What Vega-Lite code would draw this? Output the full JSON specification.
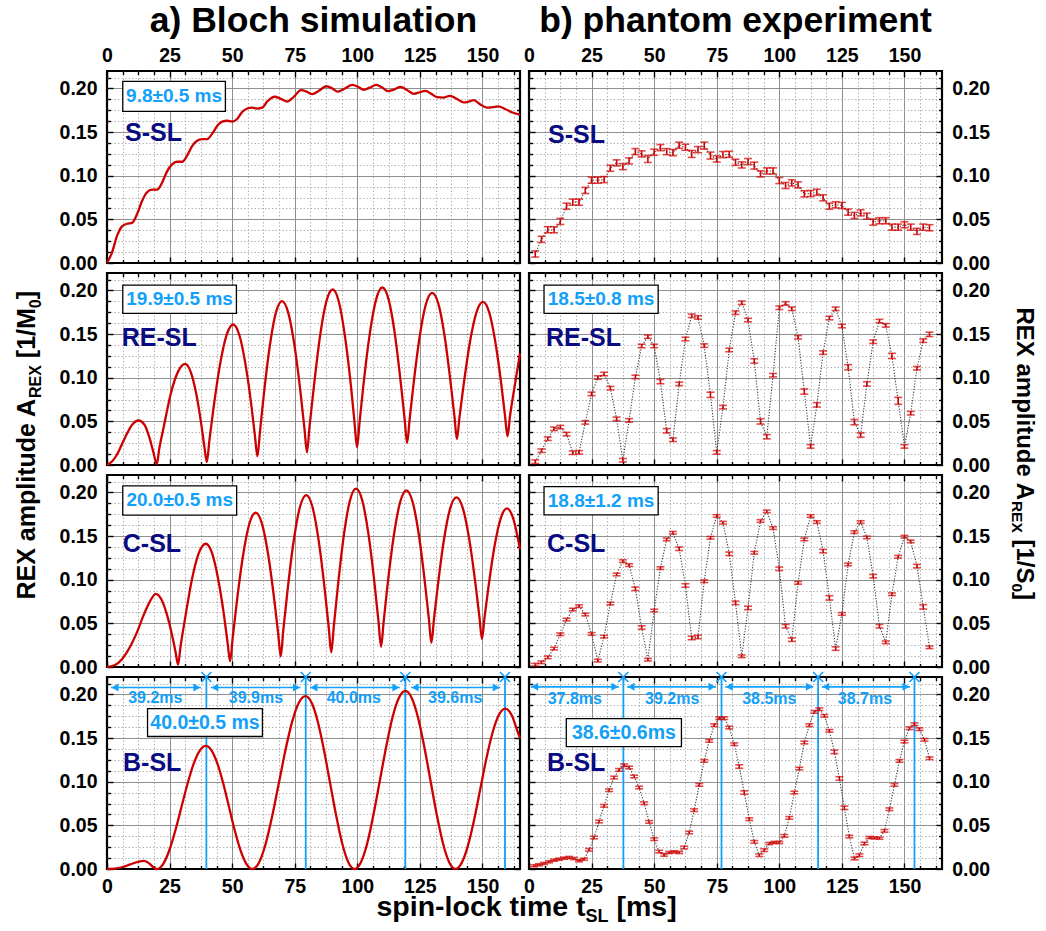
{
"$schema":"https://vega.github.io/schema/vega-lite/v6.json",
"padding":{"left":13,"top":2,"right":4,"bottom":4},
"background":"#ffffff",
"config":{
 "font":"Liberation Sans",
 "view":{"stroke":"#000000","strokeWidth":2.2},
 "axis":{"domain":false,"labelFont":"Liberation Sans","labelFontSize":19.5,"labelFontWeight":"bold","labelColor":"#000000","labelFlush":false,"labelOverlap":false,"tickColor":"#000000","tickWidth":1.4,"gridWidth":1,"titleFont":"Liberation Sans","titleFontWeight":"bold","titleColor":"#000000","titleAlign":"left","titleBaseline":"alphabetic","titlePadding":0},
 "title":{"font":"Liberation Sans","fontWeight":"bold","color":"#000000"}
},
"datasets":{
"frame":[{"t":0,"v":0},{"t":165,"v":0.22}],
"ssl_sim":[{"t":0,"v":0},{"t":2,"v":0.012},{"t":4,"v":0.031},{"t":6,"v":0.042},{"t":8,"v":0.045},{"t":10,"v":0.046},{"t":12,"v":0.056},{"t":14,"v":0.071},{"t":16,"v":0.081},{"t":18,"v":0.084},{"t":20,"v":0.084},{"t":22,"v":0.092},{"t":24,"v":0.105},{"t":26,"v":0.113},{"t":28,"v":0.116},{"t":30,"v":0.116},{"t":32,"v":0.123},{"t":34,"v":0.134},{"t":36,"v":0.14},{"t":38,"v":0.142},{"t":40,"v":0.142},{"t":42,"v":0.148},{"t":44,"v":0.157},{"t":46,"v":0.162},{"t":48,"v":0.163},{"t":50,"v":0.162},{"t":52,"v":0.165},{"t":54,"v":0.173},{"t":56,"v":0.177},{"t":58,"v":0.178},{"t":60,"v":0.177},{"t":62,"v":0.178},{"t":64,"v":0.185},{"t":67,"v":0.1905},{"t":69.5,"v":0.188},{"t":72,"v":0.185},{"t":74.5,"v":0.19},{"t":77.5,"v":0.198},{"t":80,"v":0.196},{"t":82,"v":0.1935},{"t":84.5,"v":0.197},{"t":87.7,"v":0.2025},{"t":90,"v":0.2},{"t":92.2,"v":0.1963},{"t":95,"v":0.2},{"t":98,"v":0.2042},{"t":100.5,"v":0.2015},{"t":102.6,"v":0.1985},{"t":105,"v":0.201},{"t":107.6,"v":0.2042},{"t":110,"v":0.201},{"t":112.2,"v":0.197},{"t":114.8,"v":0.199},{"t":117.2,"v":0.2018},{"t":120,"v":0.198},{"t":122.5,"v":0.1939},{"t":124.8,"v":0.1955},{"t":127.2,"v":0.1973},{"t":129.5,"v":0.194},{"t":131.8,"v":0.19},{"t":134.3,"v":0.1895},{"t":137,"v":0.1915},{"t":139.8,"v":0.188},{"t":142.5,"v":0.184},{"t":144.5,"v":0.185},{"t":146.5,"v":0.1866},{"t":149,"v":0.182},{"t":151.8,"v":0.178},{"t":154,"v":0.1785},{"t":156.4,"v":0.1794},{"t":159,"v":0.1765},{"t":162,"v":0.1725},{"t":165,"v":0.17}],
"resl_sim":[{"t":0,"v":0},{"t":2,"v":0.004},{"t":4,"v":0.012},{"t":6,"v":0.024},{"t":8,"v":0.036},{"t":10,"v":0.046},{"t":12.6,"v":0.051},{"t":15,"v":0.046},{"t":17,"v":0.031},{"t":18.5,"v":0.015},{"t":19.9,"v":0.001},{"t":20.9,"v":0.019},{"t":22.7,"v":0.044},{"t":25.5,"v":0.082},{"t":28.4,"v":0.107},{"t":31.2,"v":0.1158},{"t":33.4,"v":0.107},{"t":35.55,"v":0.083},{"t":37.7,"v":0.046},{"t":38.9,"v":0.021},{"t":39.9,"v":0.0034},{"t":40.9,"v":0.028},{"t":42.5,"v":0.064},{"t":45.15,"v":0.115},{"t":47.8,"v":0.149},{"t":50.4,"v":0.161},{"t":52.8,"v":0.1495},{"t":55.25,"v":0.1167},{"t":57.7,"v":0.0678},{"t":59.1,"v":0.0335},{"t":60.1,"v":0.0099},{"t":61.1,"v":0.0377},{"t":62.55,"v":0.078},{"t":65,"v":0.1357},{"t":67.45,"v":0.1743},{"t":69.9,"v":0.1878},{"t":72.4,"v":0.1746},{"t":74.9,"v":0.137},{"t":77.4,"v":0.0809},{"t":78.9,"v":0.0415},{"t":79.9,"v":0.0145},{"t":80.9,"v":0.0437},{"t":82.5,"v":0.086},{"t":85.05,"v":0.1464},{"t":87.6,"v":0.187},{"t":90.2,"v":0.2011},{"t":92.6,"v":0.1874},{"t":95.05,"v":0.148},{"t":97.5,"v":0.0895},{"t":98.9,"v":0.0484},{"t":99.9,"v":0.0202},{"t":100.9,"v":0.0487},{"t":102.4,"v":0.0904},{"t":104.95,"v":0.1497},{"t":107.5,"v":0.1895},{"t":110,"v":0.2034},{"t":112.5,"v":0.1898},{"t":114.95,"v":0.1512},{"t":117.4,"v":0.0934},{"t":118.9,"v":0.0529},{"t":119.9,"v":0.0251},{"t":120.9,"v":0.052},{"t":122.4,"v":0.091},{"t":124.9,"v":0.1468},{"t":127.4,"v":0.1842},{"t":129.9,"v":0.1973},{"t":132.4,"v":0.1846},{"t":134.85,"v":0.1482},{"t":137.3,"v":0.0939},{"t":138.8,"v":0.056},{"t":139.8,"v":0.0297},{"t":140.8,"v":0.0542},{"t":142.4,"v":0.09},{"t":145,"v":0.1409},{"t":147.6,"v":0.175},{"t":150.2,"v":0.187},{"t":152.65,"v":0.1753},{"t":155.1,"v":0.1418},{"t":157.55,"v":0.0919},{"t":159,"v":0.0568},{"t":160,"v":0.0328},{"t":161,"v":0.056},{"t":162.4,"v":0.082},{"t":165,"v":0.128}],
"csl_sim":[{"t":0,"v":0},{"t":3,"v":0.002},{"t":6,"v":0.009},{"t":9,"v":0.022},{"t":12,"v":0.04},{"t":15,"v":0.062},{"t":17.5,"v":0.077},{"t":19.5,"v":0.0838},{"t":21.7,"v":0.0776},{"t":23.95,"v":0.06},{"t":26.2,"v":0.0338},{"t":27.4,"v":0.017},{"t":28.4,"v":0.0027},{"t":29.4,"v":0.024},{"t":31.2,"v":0.0557},{"t":33.95,"v":0.1006},{"t":36.7,"v":0.1307},{"t":39.5,"v":0.1412},{"t":41.9,"v":0.131},{"t":44.35,"v":0.1017},{"t":46.8,"v":0.0581},{"t":48.2,"v":0.027},{"t":49.2,"v":0.0065},{"t":50.2,"v":0.033},{"t":51.75,"v":0.0717},{"t":54.3,"v":0.1269},{"t":56.85,"v":0.1639},{"t":59.4,"v":0.1768},{"t":61.9,"v":0.1643},{"t":64.4,"v":0.1286},{"t":66.9,"v":0.0753},{"t":68.4,"v":0.038},{"t":69.4,"v":0.0123},{"t":70.4,"v":0.041},{"t":71.95,"v":0.083},{"t":74.5,"v":0.1429},{"t":77.05,"v":0.183},{"t":79.6,"v":0.197},{"t":82.1,"v":0.1833},{"t":84.6,"v":0.1442},{"t":87.1,"v":0.0858},{"t":88.6,"v":0.045},{"t":89.6,"v":0.0168},{"t":90.6,"v":0.046},{"t":92.1,"v":0.0887},{"t":94.55,"v":0.1494},{"t":97,"v":0.1901},{"t":99.5,"v":0.2044},{"t":102,"v":0.1906},{"t":104.5,"v":0.1513},{"t":107,"v":0.0925},{"t":108.5,"v":0.051},{"t":109.5,"v":0.023},{"t":110.5,"v":0.051},{"t":112,"v":0.0917},{"t":114.55,"v":0.1498},{"t":117.1,"v":0.1888},{"t":119.6,"v":0.2024},{"t":122.1,"v":0.1891},{"t":124.6,"v":0.1512},{"t":127.1,"v":0.0945},{"t":128.6,"v":0.055},{"t":129.6,"v":0.0276},{"t":130.6,"v":0.054},{"t":132.1,"v":0.0915},{"t":134.6,"v":0.1455},{"t":137.1,"v":0.1817},{"t":139.6,"v":0.1944},{"t":142.15,"v":0.1821},{"t":144.7,"v":0.1468},{"t":147.25,"v":0.0943},{"t":148.8,"v":0.057},{"t":149.8,"v":0.0321},{"t":150.8,"v":0.056},{"t":152.3,"v":0.0894},{"t":154.8,"v":0.138},{"t":157.3,"v":0.1704},{"t":159.8,"v":0.1818},{"t":162.3,"v":0.17},{"t":165,"v":0.135}],
"bsl_sim":[{"t":0,"v":0},{"t":3,"v":0.0005},{"t":6,"v":0.002},{"t":9,"v":0.005},{"t":12,"v":0.008},{"t":14.9,"v":0.0094},{"t":17,"v":0.006},{"t":18.5,"v":0.002},{"t":19.9,"v":0},{"t":22.35,"v":0.0054},{"t":24.8,"v":0.0206},{"t":27.25,"v":0.0436},{"t":29.7,"v":0.0705},{"t":32.15,"v":0.0974},{"t":34.6,"v":0.1204},{"t":37.05,"v":0.1356},{"t":39.5,"v":0.141},{"t":41.8,"v":0.1356},{"t":44.15,"v":0.1204},{"t":46.5,"v":0.0974},{"t":48.8,"v":0.0705},{"t":51.1,"v":0.0436},{"t":53.45,"v":0.0206},{"t":55.8,"v":0.0054},{"t":58.1,"v":0},{"t":60.75,"v":0.0075},{"t":63.4,"v":0.0289},{"t":66.05,"v":0.0612},{"t":68.7,"v":0.099},{"t":71.35,"v":0.1368},{"t":74,"v":0.1691},{"t":76.65,"v":0.1905},{"t":79.3,"v":0.198},{"t":81.75,"v":0.1905},{"t":84.2,"v":0.1691},{"t":86.65,"v":0.1368},{"t":89.1,"v":0.099},{"t":91.55,"v":0.0612},{"t":94,"v":0.0289},{"t":96.45,"v":0.0075},{"t":98.9,"v":0},{"t":101.45,"v":0.0078},{"t":104,"v":0.0298},{"t":106.5,"v":0.063},{"t":109.05,"v":0.102},{"t":111.6,"v":0.141},{"t":114.1,"v":0.1742},{"t":116.65,"v":0.1962},{"t":119.2,"v":0.204},{"t":121.7,"v":0.1962},{"t":124.2,"v":0.1742},{"t":126.7,"v":0.141},{"t":129.2,"v":0.102},{"t":131.7,"v":0.063},{"t":134.2,"v":0.0298},{"t":136.7,"v":0.0078},{"t":139.2,"v":0},{"t":141.7,"v":0.007},{"t":144.2,"v":0.0268},{"t":146.7,"v":0.0568},{"t":149.15,"v":0.0919},{"t":151.6,"v":0.127},{"t":154.1,"v":0.157},{"t":156.6,"v":0.1768},{"t":159.1,"v":0.1838},{"t":161.6,"v":0.1768},{"t":164.1,"v":0.157},{"t":165,"v":0.15}],
"ssl_exp":[{"t":2.5,"v":0.0103,"e":0.0035},{"t":5,"v":0.0271,"e":0.0035},{"t":7.5,"v":0.0381,"e":0.0035},{"t":10,"v":0.0381,"e":0.0035},{"t":12.5,"v":0.0476,"e":0.0035},{"t":15,"v":0.0651,"e":0.0035},{"t":17.5,"v":0.0697,"e":0.0035},{"t":20,"v":0.0697,"e":0.0035},{"t":22.5,"v":0.0831,"e":0.0035},{"t":25,"v":0.0949,"e":0.0035},{"t":27.5,"v":0.0949,"e":0.0035},{"t":30,"v":0.0956,"e":0.0035},{"t":32.5,"v":0.1086,"e":0.0035},{"t":35,"v":0.1147,"e":0.0035},{"t":37.5,"v":0.1105,"e":0.0035},{"t":40,"v":0.117,"e":0.0035},{"t":42.5,"v":0.1276,"e":0.0035},{"t":45,"v":0.125,"e":0.0035},{"t":47.5,"v":0.1192,"e":0.004},{"t":50,"v":0.1269,"e":0.0035},{"t":52.5,"v":0.1322,"e":0.0035},{"t":55,"v":0.1276,"e":0.0035},{"t":57.5,"v":0.1265,"e":0.0035},{"t":60,"v":0.1349,"e":0.0035},{"t":62.5,"v":0.1326,"e":0.0035},{"t":65,"v":0.125,"e":0.004},{"t":67.5,"v":0.1299,"e":0.0035},{"t":70,"v":0.1345,"e":0.004},{"t":72.5,"v":0.1231,"e":0.004},{"t":75,"v":0.1192,"e":0.0035},{"t":77.5,"v":0.1242,"e":0.0035},{"t":80,"v":0.1246,"e":0.0035},{"t":82.5,"v":0.1154,"e":0.0035},{"t":85,"v":0.1124,"e":0.0035},{"t":87.5,"v":0.1162,"e":0.0035},{"t":90,"v":0.1116,"e":0.004},{"t":92.5,"v":0.1021,"e":0.0035},{"t":95,"v":0.1055,"e":0.0035},{"t":97.5,"v":0.1055,"e":0.0035},{"t":100,"v":0.0945,"e":0.0035},{"t":102.5,"v":0.0888,"e":0.0035},{"t":105,"v":0.0918,"e":0.0035},{"t":107.5,"v":0.0895,"e":0.0035},{"t":110,"v":0.0792,"e":0.0035},{"t":112.5,"v":0.0796,"e":0.0035},{"t":115,"v":0.0811,"e":0.0035},{"t":117.5,"v":0.0747,"e":0.0035},{"t":120,"v":0.0651,"e":0.0035},{"t":122.5,"v":0.0667,"e":0.0035},{"t":125,"v":0.0659,"e":0.0035},{"t":127.5,"v":0.0583,"e":0.0035},{"t":130,"v":0.0545,"e":0.0035},{"t":132.5,"v":0.0575,"e":0.0035},{"t":135,"v":0.0537,"e":0.0035},{"t":137.5,"v":0.0469,"e":0.0035},{"t":140,"v":0.0484,"e":0.0035},{"t":142.5,"v":0.0484,"e":0.0035},{"t":145,"v":0.0411,"e":0.0035},{"t":147.5,"v":0.0411,"e":0.0035},{"t":150,"v":0.0438,"e":0.0035},{"t":152.5,"v":0.0411,"e":0.0035},{"t":155,"v":0.0362,"e":0.0035},{"t":157.5,"v":0.0411,"e":0.0035},{"t":160,"v":0.0404,"e":0.0035}],
"resl_exp":[{"t":2.5,"v":0.0038,"e":0.002},{"t":5,"v":0.0164,"e":0.002},{"t":7.5,"v":0.0301,"e":0.002},{"t":10,"v":0.0415,"e":0.002},{"t":12.5,"v":0.0434,"e":0.002},{"t":15,"v":0.0354,"e":0.002},{"t":17.5,"v":0.0141,"e":0.002},{"t":20,"v":0.0145,"e":0.002},{"t":22.5,"v":0.0488,"e":0.002},{"t":25,"v":0.0815,"e":0.002},{"t":27.5,"v":0.1002,"e":0.002},{"t":30,"v":0.1043,"e":0.002},{"t":32.5,"v":0.088,"e":0.002},{"t":35,"v":0.0529,"e":0.002},{"t":37.5,"v":0.0054,"e":0.002},{"t":40,"v":0.0511,"e":0.002},{"t":42.5,"v":0.1009,"e":0.002},{"t":45,"v":0.1364,"e":0.002},{"t":47.5,"v":0.147,"e":0.002},{"t":50,"v":0.1364,"e":0.002},{"t":52.5,"v":0.0956,"e":0.0025},{"t":55,"v":0.0392,"e":0.0025},{"t":57.5,"v":0.0289,"e":0.002},{"t":60,"v":0.0929,"e":0.002},{"t":62.5,"v":0.1444,"e":0.002},{"t":65,"v":0.171,"e":0.002},{"t":67.5,"v":0.1691,"e":0.002},{"t":70,"v":0.1368,"e":0.002},{"t":72.5,"v":0.0804,"e":0.003},{"t":75,"v":0.0145,"e":0.002},{"t":77.5,"v":0.0663,"e":0.002},{"t":80,"v":0.1318,"e":0.002},{"t":82.5,"v":0.1745,"e":0.002},{"t":85,"v":0.1859,"e":0.002},{"t":87.5,"v":0.1661,"e":0.002},{"t":90,"v":0.1192,"e":0.0025},{"t":92.5,"v":0.0499,"e":0.003},{"t":95,"v":0.0324,"e":0.0025},{"t":97.5,"v":0.1029,"e":0.002},{"t":100,"v":0.1802,"e":0.002},{"t":102.5,"v":0.1851,"e":0.002},{"t":105,"v":0.179,"e":0.002},{"t":107.5,"v":0.1463,"e":0.002},{"t":110,"v":0.0842,"e":0.003},{"t":112.5,"v":0.0213,"e":0.002},{"t":115,"v":0.0689,"e":0.0025},{"t":117.5,"v":0.1288,"e":0.002},{"t":120,"v":0.1684,"e":0.002},{"t":122.5,"v":0.179,"e":0.002},{"t":125,"v":0.1592,"e":0.002},{"t":127.5,"v":0.112,"e":0.003},{"t":130,"v":0.0491,"e":0.003},{"t":132.5,"v":0.0343,"e":0.0025},{"t":135,"v":0.0929,"e":0.0025},{"t":137.5,"v":0.1413,"e":0.002},{"t":140,"v":0.1649,"e":0.002},{"t":142.5,"v":0.16,"e":0.002},{"t":145,"v":0.125,"e":0.003},{"t":147.5,"v":0.0735,"e":0.004},{"t":150,"v":0.0213,"e":0.002},{"t":152.5,"v":0.0594,"e":0.002},{"t":155,"v":0.1109,"e":0.002},{"t":157.5,"v":0.1425,"e":0.002},{"t":160,"v":0.1497,"e":0.0025}],
"csl_exp":[{"t":2.5,"v":0.0027,"e":0.0015},{"t":5,"v":0.0054,"e":0.0015},{"t":7.5,"v":0.0111,"e":0.0015},{"t":10,"v":0.0211,"e":0.0015},{"t":12.5,"v":0.0375,"e":0.0015},{"t":15,"v":0.0543,"e":0.0015},{"t":17.5,"v":0.0658,"e":0.0015},{"t":20,"v":0.0697,"e":0.0015},{"t":22.5,"v":0.0601,"e":0.0015},{"t":25,"v":0.0379,"e":0.0015},{"t":27.5,"v":0.0073,"e":0.0015},{"t":30,"v":0.0348,"e":0.0015},{"t":32.5,"v":0.0727,"e":0.0015},{"t":35,"v":0.106,"e":0.0015},{"t":37.5,"v":0.1213,"e":0.0015},{"t":40,"v":0.1167,"e":0.0015},{"t":42.5,"v":0.0896,"e":0.002},{"t":45,"v":0.0452,"e":0.002},{"t":47.5,"v":0.0084,"e":0.0015},{"t":50,"v":0.0647,"e":0.0015},{"t":52.5,"v":0.1133,"e":0.0015},{"t":55,"v":0.1462,"e":0.0015},{"t":57.5,"v":0.1538,"e":0.0015},{"t":60,"v":0.1355,"e":0.002},{"t":62.5,"v":0.0934,"e":0.002},{"t":65,"v":0.0333,"e":0.002},{"t":67.5,"v":0.0344,"e":0.002},{"t":70,"v":0.0983,"e":0.0015},{"t":72.5,"v":0.1481,"e":0.0015},{"t":75,"v":0.173,"e":0.0015},{"t":77.5,"v":0.1653,"e":0.0015},{"t":80,"v":0.1297,"e":0.002},{"t":82.5,"v":0.0735,"e":0.002},{"t":85,"v":0.0123,"e":0.0015},{"t":87.5,"v":0.0677,"e":0.002},{"t":90,"v":0.1309,"e":0.0015},{"t":92.5,"v":0.1673,"e":0.0015},{"t":95,"v":0.1783,"e":0.0015},{"t":97.5,"v":0.1592,"e":0.0015},{"t":100,"v":0.1125,"e":0.002},{"t":102.5,"v":0.0467,"e":0.002},{"t":105,"v":0.0313,"e":0.002},{"t":107.5,"v":0.0964,"e":0.0015},{"t":110,"v":0.1462,"e":0.0015},{"t":112.5,"v":0.173,"e":0.0015},{"t":115,"v":0.1661,"e":0.0015},{"t":117.5,"v":0.1328,"e":0.002},{"t":120,"v":0.0792,"e":0.0025},{"t":122.5,"v":0.0211,"e":0.002},{"t":125,"v":0.0608,"e":0.0015},{"t":127.5,"v":0.1175,"e":0.0015},{"t":130,"v":0.1546,"e":0.0015},{"t":132.5,"v":0.1661,"e":0.0015},{"t":135,"v":0.1485,"e":0.0015},{"t":137.5,"v":0.1041,"e":0.002},{"t":140,"v":0.0467,"e":0.002},{"t":142.5,"v":0.0283,"e":0.0015},{"t":145,"v":0.0834,"e":0.0015},{"t":147.5,"v":0.1263,"e":0.0015},{"t":150,"v":0.1493,"e":0.0015},{"t":152.5,"v":0.1439,"e":0.0015},{"t":155,"v":0.1156,"e":0.002},{"t":157.5,"v":0.0689,"e":0.0025},{"t":160,"v":0.0226,"e":0.0015}],
"bsl_exp":[{"t":2,"v":0.0037,"e":0.0012},{"t":4,"v":0.0048,"e":0.0012},{"t":6,"v":0.0063,"e":0.0012},{"t":8,"v":0.0082,"e":0.0012},{"t":10,"v":0.0101,"e":0.0012},{"t":12,"v":0.0112,"e":0.0012},{"t":14,"v":0.0124,"e":0.0012},{"t":16,"v":0.0132,"e":0.0012},{"t":18,"v":0.012,"e":0.0012},{"t":20,"v":0.0094,"e":0.0012},{"t":22,"v":0.0112,"e":0.0012},{"t":24,"v":0.022,"e":0.0015},{"t":26,"v":0.0361,"e":0.0015},{"t":28,"v":0.0544,"e":0.0015},{"t":30,"v":0.0724,"e":0.0015},{"t":32,"v":0.0903,"e":0.0015},{"t":34,"v":0.1048,"e":0.0015},{"t":36,"v":0.1136,"e":0.0015},{"t":38,"v":0.1189,"e":0.0015},{"t":40,"v":0.1163,"e":0.0015},{"t":42,"v":0.106,"e":0.0015},{"t":44,"v":0.0934,"e":0.0015},{"t":46,"v":0.0754,"e":0.0015},{"t":48,"v":0.054,"e":0.0015},{"t":50,"v":0.0342,"e":0.0015},{"t":52,"v":0.02,"e":0.0015},{"t":54,"v":0.0162,"e":0.0015},{"t":56,"v":0.0189,"e":0.0012},{"t":58,"v":0.0197,"e":0.0012},{"t":60,"v":0.0189,"e":0.0012},{"t":62,"v":0.0246,"e":0.0015},{"t":64,"v":0.0418,"e":0.0015},{"t":66,"v":0.0674,"e":0.0015},{"t":68,"v":0.0964,"e":0.0015},{"t":70,"v":0.1239,"e":0.0015},{"t":72,"v":0.1468,"e":0.0015},{"t":74,"v":0.1648,"e":0.0015},{"t":76,"v":0.1728,"e":0.0015},{"t":78,"v":0.1728,"e":0.0015},{"t":80,"v":0.1621,"e":0.0015},{"t":82,"v":0.143,"e":0.0015},{"t":84,"v":0.1174,"e":0.002},{"t":86,"v":0.0876,"e":0.002},{"t":88,"v":0.0571,"e":0.0015},{"t":90,"v":0.0311,"e":0.0015},{"t":92,"v":0.0158,"e":0.0015},{"t":94,"v":0.0216,"e":0.0015},{"t":96,"v":0.0292,"e":0.0012},{"t":98,"v":0.0304,"e":0.0012},{"t":100,"v":0.0304,"e":0.0012},{"t":102,"v":0.038,"e":0.0015},{"t":104,"v":0.0586,"e":0.0015},{"t":106,"v":0.0876,"e":0.0015},{"t":108,"v":0.1151,"e":0.0015},{"t":110,"v":0.1449,"e":0.0015},{"t":112,"v":0.1648,"e":0.0015},{"t":114,"v":0.18,"e":0.0015},{"t":116,"v":0.1831,"e":0.0015},{"t":118,"v":0.1755,"e":0.0015},{"t":120,"v":0.1583,"e":0.0015},{"t":122,"v":0.1342,"e":0.002},{"t":124,"v":0.1037,"e":0.002},{"t":126,"v":0.0701,"e":0.002},{"t":128,"v":0.0372,"e":0.0015},{"t":130,"v":0.012,"e":0.0015},{"t":132,"v":0.0158,"e":0.0015},{"t":134,"v":0.0292,"e":0.0015},{"t":136,"v":0.0361,"e":0.0012},{"t":138,"v":0.0357,"e":0.0012},{"t":140,"v":0.0353,"e":0.0012},{"t":142,"v":0.0437,"e":0.0015},{"t":144,"v":0.0685,"e":0.0015},{"t":146,"v":0.0964,"e":0.0015},{"t":148,"v":0.1239,"e":0.0015},{"t":150,"v":0.1461,"e":0.0015},{"t":152,"v":0.1613,"e":0.0015},{"t":154,"v":0.1659,"e":0.0015},{"t":156,"v":0.1602,"e":0.0015},{"t":158,"v":0.148,"e":0.0015},{"t":160,"v":0.1269,"e":0.0015}],
"boxes":[{"p":"a1","t1":6.3,"t2":47.3,"v1":0.1737,"v2":0.208,"tx":26.8,"ty":0.1909,"txt":"9.8±0.5 ms"},{"p":"a2","t1":6.3,"t2":51.7,"v1":0.1737,"v2":0.206,"tx":29,"ty":0.1899,"txt":"19.9±0.5 ms"},{"p":"a3","t1":6.3,"t2":51.8,"v1":0.174,"v2":0.2075,"tx":29.05,"ty":0.1908,"txt":"20.0±0.5 ms"},{"p":"a4","t1":16.2,"t2":62.1,"v1":0.1518,"v2":0.1838,"tx":39.15,"ty":0.1678,"txt":"40.0±0.5 ms"},{"p":"b2","t1":6,"t2":51.6,"v1":0.1737,"v2":0.206,"tx":28.8,"ty":0.1899,"txt":"18.5±0.8 ms"},{"p":"b3","t1":6,"t2":51.6,"v1":0.1742,"v2":0.2067,"tx":28.8,"ty":0.1905,"txt":"18.8±1.2 ms"},{"p":"b4","t1":14.9,"t2":60.9,"v1":0.1403,"v2":0.1724,"tx":37.9,"ty":0.1564,"txt":"38.6±0.6ms"}],
"plabels":[{"p":"a1","t":7.2,"v":0.1486,"txt":"S-SL"},{"p":"a2","t":5.9,"v":0.145,"txt":"RE-SL"},{"p":"a3","t":6.3,"v":0.141,"txt":"C-SL"},{"p":"a4","t":6.4,"v":0.121,"txt":"B-SL"},{"p":"b1","t":7.6,"v":0.147,"txt":"S-SL"},{"p":"b2","t":6.8,"v":0.145,"txt":"RE-SL"},{"p":"b3","t":7.2,"v":0.141,"txt":"C-SL"},{"p":"b4","t":7.2,"v":0.121,"txt":"B-SL"}],
"vlines":[{"p":"a4","t":39.7},{"p":"a4","t":79.4},{"p":"a4","t":119.2},{"p":"a4","t":159.0},{"p":"b4","t":37.7},{"p":"b4","t":76.9},{"p":"b4","t":115.5},{"p":"b4","t":154.0}],
"arrows":[{"p":"a4","t1":1.6,"t2":37.5,"v":0.208,"tm":19.3,"lv":0.1964,"txt":"39.2ms"},{"p":"a4","t1":41.5,"t2":77.3,"v":0.208,"tm":59.5,"lv":0.1964,"txt":"39.9ms"},{"p":"a4","t1":81.1,"t2":117,"v":0.208,"tm":98.6,"lv":0.1964,"txt":"40.0ms"},{"p":"a4","t1":121.5,"t2":157.1,"v":0.208,"tm":139.1,"lv":0.1964,"txt":"39.6ms"},{"p":"b4","t1":0.7,"t2":35.9,"v":0.2087,"tm":18.3,"lv":0.1953,"txt":"37.8ms"},{"p":"b4","t1":39.2,"t2":74.7,"v":0.2087,"tm":57.2,"lv":0.1953,"txt":"39.2ms"},{"p":"b4","t1":78.4,"t2":113.6,"v":0.2087,"tm":96,"lv":0.1953,"txt":"38.5ms"},{"p":"b4","t1":117,"t2":152.2,"v":0.2087,"tm":134.2,"lv":0.1953,"txt":"38.7ms"}]
},
"columns":2,
"spacing":{"row":10,"column":9},
"bounds":"flush",
"concat":[
{"width":413,"height":192,
 "title":{"text":"a) Bloch simulation","fontSize":35.5,"fontWeight":"bold","anchor":"middle","frame":"group","offset":-21.5,"baseline":"alphabetic"},
 "resolve":{"axis":{"x":"independent","y":"independent"}},
 "layer":[
  {"data":{"name":"frame"},"mark":{"type":"point","opacity":0},"encoding":{"x":{"field":"t","type":"quantitative","scale":{"domain":[0,165],"nice":false,"zero":false},"axis":{"orient":"bottom","values":[6.25,12.5,18.75,31.25,37.5,43.75,56.25,62.5,68.75,81.25,87.5,93.75,106.25,112.5,118.75,131.25,137.5,143.75,156.25,162.5],"grid":true,"gridDash":[1.5,2],"gridColor":"#b4b4b4","labels":false,"tickSize":-3.5,"title":null}},"y":{"field":"v","type":"quantitative","scale":{"domain":[0,0.22],"nice":false,"zero":false},"axis":{"orient":"left","values":[0.0125,0.025,0.0375,0.0625,0.075,0.0875,0.1125,0.125,0.1375,0.1625,0.175,0.1875,0.2125],"grid":true,"gridDash":[1.5,2],"gridColor":"#b4b4b4","labels":false,"tickSize":-3.5,"title":null}}}},
  {"data":{"name":"frame"},"mark":{"type":"point","opacity":0},"encoding":{"x":{"field":"t","type":"quantitative","scale":{"domain":[0,165],"nice":false,"zero":false},"axis":{"orient":"bottom","values":[25,50,75,100,125,150],"grid":true,"gridColor":"#8f8f8f","ticks":false,"labels":false,"title":null}},"y":{"field":"v","type":"quantitative","scale":{"domain":[0,0.22],"nice":false,"zero":false},"axis":{"orient":"left","values":[0.05,0.1,0.15,0.2],"grid":true,"gridColor":"#8f8f8f","ticks":false,"labels":false,"title":null}}}},
  {"data":{"name":"frame"},"mark":{"type":"point","opacity":0},"encoding":{"x":{"field":"t","type":"quantitative","scale":{"domain":[0,165],"nice":false,"zero":false},"axis":{"orient":"top","values":[6.25,12.5,18.75,31.25,37.5,43.75,56.25,62.5,68.75,81.25,87.5,93.75,106.25,112.5,118.75,131.25,137.5,143.75,156.25,162.5],"labels":false,"tickSize":-3.5,"title":null}},"y":{"field":"v","type":"quantitative","scale":{"domain":[0,0.22],"nice":false,"zero":false},"axis":{"orient":"right","values":[0.0125,0.025,0.0375,0.0625,0.075,0.0875,0.1125,0.125,0.1375,0.1625,0.175,0.1875,0.2125],"labels":false,"tickSize":-3.5,"title":null}}}},
  {"data":{"name":"frame"},"mark":{"type":"point","opacity":0},"encoding":{"x":{"field":"t","type":"quantitative","scale":{"domain":[0,165],"nice":false,"zero":false},"axis":{"orient":"bottom","values":[0,25,50,75,100,125,150],"tickSize":-6,"labels":false,"title":null}},"y":{"field":"v","type":"quantitative","scale":{"domain":[0,0.22],"nice":false,"zero":false},"axis":{"orient":"left","values":[0,0.05,0.1,0.15,0.2],"tickSize":-6,"labels":true,"format":".2f","labelPadding":16,"title":null}}}},
  {"data":{"name":"frame"},"mark":{"type":"point","opacity":0},"encoding":{"x":{"field":"t","type":"quantitative","scale":{"domain":[0,165],"nice":false,"zero":false},"axis":{"orient":"top","values":[0,25,50,75,100,125,150],"tickSize":-6,"labels":true,"labelPadding":11.5,"title":null}},"y":{"field":"v","type":"quantitative","scale":{"domain":[0,0.22],"nice":false,"zero":false},"axis":{"orient":"right","values":[0,0.05,0.1,0.15,0.2],"tickSize":-6,"labels":false,"title":null}}}},
  {"data":{"name":"ssl_sim"},"mark":{"type":"line","color":"#cc0000","strokeWidth":2.3,"interpolate":"monotone"},"encoding":{"x":{"field":"t","type":"quantitative","axis":null},"y":{"field":"v","type":"quantitative","axis":null}}},
  {"data":{"name":"boxes"},"transform":[{"filter":"datum.p==='a1'"}],"mark":{"type":"rect","fill":"#ffffff","stroke":"#000000","strokeWidth":1.3},"encoding":{"x":{"field":"t1","type":"quantitative","axis":null},"x2":{"field":"t2"},"y":{"field":"v1","type":"quantitative","axis":null},"y2":{"field":"v2"}}},
  {"data":{"name":"boxes"},"transform":[{"filter":"datum.p==='a1'"}],"mark":{"type":"text","color":"#12a0fa","fontSize":19,"fontWeight":"bold","align":"center","baseline":"middle"},"encoding":{"x":{"field":"tx","type":"quantitative","axis":null},"y":{"field":"ty","type":"quantitative","axis":null},"text":{"field":"txt","type":"nominal"}}},
  {"data":{"name":"plabels"},"transform":[{"filter":"datum.p==='a1'"}],"mark":{"type":"text","color":"#0a0a82","fontSize":25,"fontWeight":"bold","align":"left","baseline":"middle"},"encoding":{"x":{"field":"t","type":"quantitative","axis":null},"y":{"field":"v","type":"quantitative","axis":null},"text":{"field":"txt","type":"nominal"}}}
 ]},
{"width":413,"height":192,
 "title":{"text":"b) phantom experiment","fontSize":35.5,"fontWeight":"bold","anchor":"middle","frame":"group","offset":-21.5,"baseline":"alphabetic"},
 "resolve":{"axis":{"x":"independent","y":"independent"}},
 "layer":[
  {"data":{"name":"frame"},"mark":{"type":"point","opacity":0},"encoding":{"x":{"field":"t","type":"quantitative","scale":{"domain":[0,165],"nice":false,"zero":false},"axis":{"orient":"bottom","values":[6.25,12.5,18.75,31.25,37.5,43.75,56.25,62.5,68.75,81.25,87.5,93.75,106.25,112.5,118.75,131.25,137.5,143.75,156.25,162.5],"grid":true,"gridDash":[1.5,2],"gridColor":"#b4b4b4","labels":false,"tickSize":-3.5,"title":null}},"y":{"field":"v","type":"quantitative","scale":{"domain":[0,0.22],"nice":false,"zero":false},"axis":{"orient":"left","values":[0.0125,0.025,0.0375,0.0625,0.075,0.0875,0.1125,0.125,0.1375,0.1625,0.175,0.1875,0.2125],"grid":true,"gridDash":[1.5,2],"gridColor":"#b4b4b4","labels":false,"tickSize":-3.5,"title":null}}}},
  {"data":{"name":"frame"},"mark":{"type":"point","opacity":0},"encoding":{"x":{"field":"t","type":"quantitative","scale":{"domain":[0,165],"nice":false,"zero":false},"axis":{"orient":"bottom","values":[25,50,75,100,125,150],"grid":true,"gridColor":"#8f8f8f","ticks":false,"labels":false,"title":null}},"y":{"field":"v","type":"quantitative","scale":{"domain":[0,0.22],"nice":false,"zero":false},"axis":{"orient":"left","values":[0.05,0.1,0.15,0.2],"grid":true,"gridColor":"#8f8f8f","ticks":false,"labels":false,"title":null}}}},
  {"data":{"name":"frame"},"mark":{"type":"point","opacity":0},"encoding":{"x":{"field":"t","type":"quantitative","scale":{"domain":[0,165],"nice":false,"zero":false},"axis":{"orient":"top","values":[6.25,12.5,18.75,31.25,37.5,43.75,56.25,62.5,68.75,81.25,87.5,93.75,106.25,112.5,118.75,131.25,137.5,143.75,156.25,162.5],"labels":false,"tickSize":-3.5,"title":null}},"y":{"field":"v","type":"quantitative","scale":{"domain":[0,0.22],"nice":false,"zero":false},"axis":{"orient":"right","values":[0.0125,0.025,0.0375,0.0625,0.075,0.0875,0.1125,0.125,0.1375,0.1625,0.175,0.1875,0.2125],"labels":false,"tickSize":-3.5,"title":null}}}},
  {"data":{"name":"frame"},"mark":{"type":"point","opacity":0},"encoding":{"x":{"field":"t","type":"quantitative","scale":{"domain":[0,165],"nice":false,"zero":false},"axis":{"orient":"bottom","values":[0,25,50,75,100,125,150],"tickSize":-6,"labels":false,"title":null}},"y":{"field":"v","type":"quantitative","scale":{"domain":[0,0.22],"nice":false,"zero":false},"axis":{"orient":"left","values":[0,0.05,0.1,0.15,0.2],"tickSize":-6,"labels":false,"title":null}}}},
  {"data":{"name":"frame"},"mark":{"type":"point","opacity":0},"encoding":{"x":{"field":"t","type":"quantitative","scale":{"domain":[0,165],"nice":false,"zero":false},"axis":{"orient":"top","values":[0,25,50,75,100,125,150],"tickSize":-6,"labels":true,"labelPadding":11.5,"title":null}},"y":{"field":"v","type":"quantitative","scale":{"domain":[0,0.22],"nice":false,"zero":false},"axis":{"orient":"right","values":[0,0.05,0.1,0.15,0.2],"tickSize":-6,"labels":true,"format":".2f","labelPadding":15.7,"title":null}}}},
  {"data":{"name":"ssl_exp"},"mark":{"type":"line","color":"#3a3a3a","strokeWidth":1.1,"strokeDash":[1.2,1.6]},"encoding":{"x":{"field":"t","type":"quantitative","axis":null},"y":{"field":"v","type":"quantitative","axis":null}}},
  {"data":{"name":"ssl_exp"},"mark":{"type":"errorbar","color":"#d20000","thickness":1.6,"ticks":{"size":8,"thickness":1.6}},"encoding":{"x":{"field":"t","type":"quantitative","axis":null},"y":{"field":"v","type":"quantitative","axis":null},"yError":{"field":"e"}}},
  {"data":{"name":"plabels"},"transform":[{"filter":"datum.p==='b1'"}],"mark":{"type":"text","color":"#0a0a82","fontSize":25,"fontWeight":"bold","align":"left","baseline":"middle"},"encoding":{"x":{"field":"t","type":"quantitative","axis":null},"y":{"field":"v","type":"quantitative","axis":null},"text":{"field":"txt","type":"nominal"}}}
 ]},
{"width":413,"height":192,
 "resolve":{"axis":{"x":"independent","y":"independent"}},
 "layer":[
  {"data":{"name":"frame"},"mark":{"type":"point","opacity":0},"encoding":{"x":{"field":"t","type":"quantitative","scale":{"domain":[0,165],"nice":false,"zero":false},"axis":{"orient":"bottom","values":[6.25,12.5,18.75,31.25,37.5,43.75,56.25,62.5,68.75,81.25,87.5,93.75,106.25,112.5,118.75,131.25,137.5,143.75,156.25,162.5],"grid":true,"gridDash":[1.5,2],"gridColor":"#b4b4b4","labels":false,"tickSize":-3.5,"title":null}},"y":{"field":"v","type":"quantitative","scale":{"domain":[0,0.22],"nice":false,"zero":false},"axis":{"orient":"left","values":[0.0125,0.025,0.0375,0.0625,0.075,0.0875,0.1125,0.125,0.1375,0.1625,0.175,0.1875,0.2125],"grid":true,"gridDash":[1.5,2],"gridColor":"#b4b4b4","labels":false,"tickSize":-3.5,"title":null}}}},
  {"data":{"name":"frame"},"mark":{"type":"point","opacity":0},"encoding":{"x":{"field":"t","type":"quantitative","scale":{"domain":[0,165],"nice":false,"zero":false},"axis":{"orient":"bottom","values":[25,50,75,100,125,150],"grid":true,"gridColor":"#8f8f8f","ticks":false,"labels":false,"title":null}},"y":{"field":"v","type":"quantitative","scale":{"domain":[0,0.22],"nice":false,"zero":false},"axis":{"orient":"left","values":[0.05,0.1,0.15,0.2],"grid":true,"gridColor":"#8f8f8f","ticks":false,"labels":false,"title":null}}}},
  {"data":{"name":"frame"},"mark":{"type":"point","opacity":0},"encoding":{"x":{"field":"t","type":"quantitative","scale":{"domain":[0,165],"nice":false,"zero":false},"axis":{"orient":"top","values":[6.25,12.5,18.75,31.25,37.5,43.75,56.25,62.5,68.75,81.25,87.5,93.75,106.25,112.5,118.75,131.25,137.5,143.75,156.25,162.5],"labels":false,"tickSize":-3.5,"title":null}},"y":{"field":"v","type":"quantitative","scale":{"domain":[0,0.22],"nice":false,"zero":false},"axis":{"orient":"right","values":[0.0125,0.025,0.0375,0.0625,0.075,0.0875,0.1125,0.125,0.1375,0.1625,0.175,0.1875,0.2125],"labels":false,"tickSize":-3.5,"title":null}}}},
  {"data":{"name":"frame"},"mark":{"type":"point","opacity":0},"encoding":{"x":{"field":"t","type":"quantitative","scale":{"domain":[0,165],"nice":false,"zero":false},"axis":{"orient":"bottom","values":[0,25,50,75,100,125,150],"tickSize":-6,"labels":false,"title":null}},"y":{"field":"v","type":"quantitative","scale":{"domain":[0,0.22],"nice":false,"zero":false},"axis":{"orient":"left","values":[0,0.05,0.1,0.15,0.2],"tickSize":-6,"labels":true,"format":".2f","labelPadding":16,"title":null}}}},
  {"data":{"name":"frame"},"mark":{"type":"point","opacity":0},"encoding":{"x":{"field":"t","type":"quantitative","scale":{"domain":[0,165],"nice":false,"zero":false},"axis":{"orient":"top","values":[0,25,50,75,100,125,150],"tickSize":-6,"labels":false,"title":null}},"y":{"field":"v","type":"quantitative","scale":{"domain":[0,0.22],"nice":false,"zero":false},"axis":{"orient":"right","values":[0,0.05,0.1,0.15,0.2],"tickSize":-6,"labels":false,"title":null}}}},
  {"data":{"name":"resl_sim"},"mark":{"type":"line","color":"#cc0000","strokeWidth":2.3,"interpolate":"monotone"},"encoding":{"x":{"field":"t","type":"quantitative","axis":null},"y":{"field":"v","type":"quantitative","axis":null}}},
  {"data":{"name":"boxes"},"transform":[{"filter":"datum.p==='a2'"}],"mark":{"type":"rect","fill":"#ffffff","stroke":"#000000","strokeWidth":1.3},"encoding":{"x":{"field":"t1","type":"quantitative","axis":null},"x2":{"field":"t2"},"y":{"field":"v1","type":"quantitative","axis":null},"y2":{"field":"v2"}}},
  {"data":{"name":"boxes"},"transform":[{"filter":"datum.p==='a2'"}],"mark":{"type":"text","color":"#12a0fa","fontSize":19,"fontWeight":"bold","align":"center","baseline":"middle"},"encoding":{"x":{"field":"tx","type":"quantitative","axis":null},"y":{"field":"ty","type":"quantitative","axis":null},"text":{"field":"txt","type":"nominal"}}},
  {"data":{"name":"plabels"},"transform":[{"filter":"datum.p==='a2'"}],"mark":{"type":"text","color":"#0a0a82","fontSize":25,"fontWeight":"bold","align":"left","baseline":"middle"},"encoding":{"x":{"field":"t","type":"quantitative","axis":null},"y":{"field":"v","type":"quantitative","axis":null},"text":{"field":"txt","type":"nominal"}}}
 ]},
{"width":413,"height":192,
 "resolve":{"axis":{"x":"independent","y":"independent"}},
 "layer":[
  {"data":{"name":"frame"},"mark":{"type":"point","opacity":0},"encoding":{"x":{"field":"t","type":"quantitative","scale":{"domain":[0,165],"nice":false,"zero":false},"axis":{"orient":"bottom","values":[6.25,12.5,18.75,31.25,37.5,43.75,56.25,62.5,68.75,81.25,87.5,93.75,106.25,112.5,118.75,131.25,137.5,143.75,156.25,162.5],"grid":true,"gridDash":[1.5,2],"gridColor":"#b4b4b4","labels":false,"tickSize":-3.5,"title":null}},"y":{"field":"v","type":"quantitative","scale":{"domain":[0,0.22],"nice":false,"zero":false},"axis":{"orient":"left","values":[0.0125,0.025,0.0375,0.0625,0.075,0.0875,0.1125,0.125,0.1375,0.1625,0.175,0.1875,0.2125],"grid":true,"gridDash":[1.5,2],"gridColor":"#b4b4b4","labels":false,"tickSize":-3.5,"title":null}}}},
  {"data":{"name":"frame"},"mark":{"type":"point","opacity":0},"encoding":{"x":{"field":"t","type":"quantitative","scale":{"domain":[0,165],"nice":false,"zero":false},"axis":{"orient":"bottom","values":[25,50,75,100,125,150],"grid":true,"gridColor":"#8f8f8f","ticks":false,"labels":false,"title":null}},"y":{"field":"v","type":"quantitative","scale":{"domain":[0,0.22],"nice":false,"zero":false},"axis":{"orient":"left","values":[0.05,0.1,0.15,0.2],"grid":true,"gridColor":"#8f8f8f","ticks":false,"labels":false,"title":null}}}},
  {"data":{"name":"frame"},"mark":{"type":"point","opacity":0},"encoding":{"x":{"field":"t","type":"quantitative","scale":{"domain":[0,165],"nice":false,"zero":false},"axis":{"orient":"top","values":[6.25,12.5,18.75,31.25,37.5,43.75,56.25,62.5,68.75,81.25,87.5,93.75,106.25,112.5,118.75,131.25,137.5,143.75,156.25,162.5],"labels":false,"tickSize":-3.5,"title":null}},"y":{"field":"v","type":"quantitative","scale":{"domain":[0,0.22],"nice":false,"zero":false},"axis":{"orient":"right","values":[0.0125,0.025,0.0375,0.0625,0.075,0.0875,0.1125,0.125,0.1375,0.1625,0.175,0.1875,0.2125],"labels":false,"tickSize":-3.5,"title":null}}}},
  {"data":{"name":"frame"},"mark":{"type":"point","opacity":0},"encoding":{"x":{"field":"t","type":"quantitative","scale":{"domain":[0,165],"nice":false,"zero":false},"axis":{"orient":"bottom","values":[0,25,50,75,100,125,150],"tickSize":-6,"labels":false,"title":null}},"y":{"field":"v","type":"quantitative","scale":{"domain":[0,0.22],"nice":false,"zero":false},"axis":{"orient":"left","values":[0,0.05,0.1,0.15,0.2],"tickSize":-6,"labels":false,"title":null}}}},
  {"data":{"name":"frame"},"mark":{"type":"point","opacity":0},"encoding":{"x":{"field":"t","type":"quantitative","scale":{"domain":[0,165],"nice":false,"zero":false},"axis":{"orient":"top","values":[0,25,50,75,100,125,150],"tickSize":-6,"labels":false,"title":null}},"y":{"field":"v","type":"quantitative","scale":{"domain":[0,0.22],"nice":false,"zero":false},"axis":{"orient":"right","values":[0,0.05,0.1,0.15,0.2],"tickSize":-6,"labels":true,"format":".2f","labelPadding":15.7,"title":null}}}},
  {"data":{"name":"resl_exp"},"mark":{"type":"line","color":"#3a3a3a","strokeWidth":1.1,"strokeDash":[1.2,1.6]},"encoding":{"x":{"field":"t","type":"quantitative","axis":null},"y":{"field":"v","type":"quantitative","axis":null}}},
  {"data":{"name":"resl_exp"},"mark":{"type":"errorbar","color":"#d20000","thickness":1.6,"ticks":{"size":8,"thickness":1.6}},"encoding":{"x":{"field":"t","type":"quantitative","axis":null},"y":{"field":"v","type":"quantitative","axis":null},"yError":{"field":"e"}}},
  {"data":{"name":"boxes"},"transform":[{"filter":"datum.p==='b2'"}],"mark":{"type":"rect","fill":"#ffffff","stroke":"#000000","strokeWidth":1.3},"encoding":{"x":{"field":"t1","type":"quantitative","axis":null},"x2":{"field":"t2"},"y":{"field":"v1","type":"quantitative","axis":null},"y2":{"field":"v2"}}},
  {"data":{"name":"boxes"},"transform":[{"filter":"datum.p==='b2'"}],"mark":{"type":"text","color":"#12a0fa","fontSize":19,"fontWeight":"bold","align":"center","baseline":"middle"},"encoding":{"x":{"field":"tx","type":"quantitative","axis":null},"y":{"field":"ty","type":"quantitative","axis":null},"text":{"field":"txt","type":"nominal"}}},
  {"data":{"name":"plabels"},"transform":[{"filter":"datum.p==='b2'"}],"mark":{"type":"text","color":"#0a0a82","fontSize":25,"fontWeight":"bold","align":"left","baseline":"middle"},"encoding":{"x":{"field":"t","type":"quantitative","axis":null},"y":{"field":"v","type":"quantitative","axis":null},"text":{"field":"txt","type":"nominal"}}}
 ]},
{"width":413,"height":192,
 "resolve":{"axis":{"x":"independent","y":"independent"}},
 "layer":[
  {"data":{"name":"frame"},"mark":{"type":"point","opacity":0},"encoding":{"x":{"field":"t","type":"quantitative","scale":{"domain":[0,165],"nice":false,"zero":false},"axis":{"orient":"bottom","values":[6.25,12.5,18.75,31.25,37.5,43.75,56.25,62.5,68.75,81.25,87.5,93.75,106.25,112.5,118.75,131.25,137.5,143.75,156.25,162.5],"grid":true,"gridDash":[1.5,2],"gridColor":"#b4b4b4","labels":false,"tickSize":-3.5,"title":null}},"y":{"field":"v","type":"quantitative","scale":{"domain":[0,0.22],"nice":false,"zero":false},"axis":{"orient":"left","values":[0.0125,0.025,0.0375,0.0625,0.075,0.0875,0.1125,0.125,0.1375,0.1625,0.175,0.1875,0.2125],"grid":true,"gridDash":[1.5,2],"gridColor":"#b4b4b4","labels":false,"tickSize":-3.5,"title":"REX amplitude A","titleX":-72.5,"titleY":124,"titleAngle":270,"titleFontSize":25}}}},
  {"data":{"name":"frame"},"mark":{"type":"point","opacity":0},"encoding":{"x":{"field":"t","type":"quantitative","scale":{"domain":[0,165],"nice":false,"zero":false},"axis":{"orient":"bottom","values":[25,50,75,100,125,150],"grid":true,"gridColor":"#8f8f8f","ticks":false,"labels":false,"title":null}},"y":{"field":"v","type":"quantitative","scale":{"domain":[0,0.22],"nice":false,"zero":false},"axis":{"orient":"left","values":[0.05,0.1,0.15,0.2],"grid":true,"gridColor":"#8f8f8f","ticks":false,"labels":false,"title":"REX","titleX":-67,"titleY":-77.4,"titleAngle":270,"titleFontSize":16}}}},
  {"data":{"name":"frame"},"mark":{"type":"point","opacity":0},"encoding":{"x":{"field":"t","type":"quantitative","scale":{"domain":[0,165],"nice":false,"zero":false},"axis":{"orient":"top","values":[6.25,12.5,18.75,31.25,37.5,43.75,56.25,62.5,68.75,81.25,87.5,93.75,106.25,112.5,118.75,131.25,137.5,143.75,156.25,162.5],"labels":false,"tickSize":-3.5,"title":"[1/M","titleX":-72.5,"titleY":-117.3,"titleAngle":270,"titleFontSize":25}},"y":{"field":"v","type":"quantitative","scale":{"domain":[0,0.22],"nice":false,"zero":false},"axis":{"orient":"right","values":[0.0125,0.025,0.0375,0.0625,0.075,0.0875,0.1125,0.125,0.1375,0.1625,0.175,0.1875,0.2125],"labels":false,"tickSize":-3.5,"title":null}}}},
  {"data":{"name":"frame"},"mark":{"type":"point","opacity":0},"encoding":{"x":{"field":"t","type":"quantitative","scale":{"domain":[0,165],"nice":false,"zero":false},"axis":{"orient":"bottom","values":[0,25,50,75,100,125,150],"tickSize":-6,"labels":false,"title":null}},"y":{"field":"v","type":"quantitative","scale":{"domain":[0,0.22],"nice":false,"zero":false},"axis":{"orient":"left","values":[0,0.05,0.1,0.15,0.2],"tickSize":-6,"labels":true,"format":".2f","labelPadding":16,"title":"0","titleX":-67,"titleY":-167.3,"titleAngle":270,"titleFontSize":16}}}},
  {"data":{"name":"frame"},"mark":{"type":"point","opacity":0},"encoding":{"x":{"field":"t","type":"quantitative","scale":{"domain":[0,165],"nice":false,"zero":false},"axis":{"orient":"top","values":[0,25,50,75,100,125,150],"tickSize":-6,"labels":false,"title":"]","titleX":-72.5,"titleY":-176.2,"titleAngle":270,"titleFontSize":25}},"y":{"field":"v","type":"quantitative","scale":{"domain":[0,0.22],"nice":false,"zero":false},"axis":{"orient":"right","values":[0,0.05,0.1,0.15,0.2],"tickSize":-6,"labels":false,"title":null}}}},
  {"data":{"name":"csl_sim"},"mark":{"type":"line","color":"#cc0000","strokeWidth":2.3,"interpolate":"monotone"},"encoding":{"x":{"field":"t","type":"quantitative","axis":null},"y":{"field":"v","type":"quantitative","axis":null}}},
  {"data":{"name":"boxes"},"transform":[{"filter":"datum.p==='a3'"}],"mark":{"type":"rect","fill":"#ffffff","stroke":"#000000","strokeWidth":1.3},"encoding":{"x":{"field":"t1","type":"quantitative","axis":null},"x2":{"field":"t2"},"y":{"field":"v1","type":"quantitative","axis":null},"y2":{"field":"v2"}}},
  {"data":{"name":"boxes"},"transform":[{"filter":"datum.p==='a3'"}],"mark":{"type":"text","color":"#12a0fa","fontSize":19,"fontWeight":"bold","align":"center","baseline":"middle"},"encoding":{"x":{"field":"tx","type":"quantitative","axis":null},"y":{"field":"ty","type":"quantitative","axis":null},"text":{"field":"txt","type":"nominal"}}},
  {"data":{"name":"plabels"},"transform":[{"filter":"datum.p==='a3'"}],"mark":{"type":"text","color":"#0a0a82","fontSize":25,"fontWeight":"bold","align":"left","baseline":"middle"},"encoding":{"x":{"field":"t","type":"quantitative","axis":null},"y":{"field":"v","type":"quantitative","axis":null},"text":{"field":"txt","type":"nominal"}}}
 ]},
{"width":413,"height":192,
 "resolve":{"axis":{"x":"independent","y":"independent"}},
 "layer":[
  {"data":{"name":"frame"},"mark":{"type":"point","opacity":0},"encoding":{"x":{"field":"t","type":"quantitative","scale":{"domain":[0,165],"nice":false,"zero":false},"axis":{"orient":"bottom","values":[6.25,12.5,18.75,31.25,37.5,43.75,56.25,62.5,68.75,81.25,87.5,93.75,106.25,112.5,118.75,131.25,137.5,143.75,156.25,162.5],"grid":true,"gridDash":[1.5,2],"gridColor":"#b4b4b4","labels":false,"tickSize":-3.5,"title":null}},"y":{"field":"v","type":"quantitative","scale":{"domain":[0,0.22],"nice":false,"zero":false},"axis":{"orient":"left","values":[0.0125,0.025,0.0375,0.0625,0.075,0.0875,0.1125,0.125,0.1375,0.1625,0.175,0.1875,0.2125],"grid":true,"gridDash":[1.5,2],"gridColor":"#b4b4b4","labels":false,"tickSize":-3.5,"title":"REX amplitude A","titleX":487,"titleY":-168,"titleAngle":90,"titleFontSize":24}}}},
  {"data":{"name":"frame"},"mark":{"type":"point","opacity":0},"encoding":{"x":{"field":"t","type":"quantitative","scale":{"domain":[0,165],"nice":false,"zero":false},"axis":{"orient":"bottom","values":[25,50,75,100,125,150],"grid":true,"gridColor":"#8f8f8f","ticks":false,"labels":false,"title":null}},"y":{"field":"v","type":"quantitative","scale":{"domain":[0,0.22],"nice":false,"zero":false},"axis":{"orient":"left","values":[0.05,0.1,0.15,0.2],"grid":true,"gridColor":"#8f8f8f","ticks":false,"labels":false,"title":"REX","titleX":482.5,"titleY":25.4,"titleAngle":90,"titleFontSize":15.5}}}},
  {"data":{"name":"frame"},"mark":{"type":"point","opacity":0},"encoding":{"x":{"field":"t","type":"quantitative","scale":{"domain":[0,165],"nice":false,"zero":false},"axis":{"orient":"top","values":[6.25,12.5,18.75,31.25,37.5,43.75,56.25,62.5,68.75,81.25,87.5,93.75,106.25,112.5,118.75,131.25,137.5,143.75,156.25,162.5],"labels":false,"tickSize":-3.5,"title":"[1/S","titleX":487,"titleY":64,"titleAngle":90,"titleFontSize":24}},"y":{"field":"v","type":"quantitative","scale":{"domain":[0,0.22],"nice":false,"zero":false},"axis":{"orient":"right","values":[0.0125,0.025,0.0375,0.0625,0.075,0.0875,0.1125,0.125,0.1375,0.1625,0.175,0.1875,0.2125],"labels":false,"tickSize":-3.5,"title":null}}}},
  {"data":{"name":"frame"},"mark":{"type":"point","opacity":0},"encoding":{"x":{"field":"t","type":"quantitative","scale":{"domain":[0,165],"nice":false,"zero":false},"axis":{"orient":"bottom","values":[0,25,50,75,100,125,150],"tickSize":-6,"labels":false,"title":null}},"y":{"field":"v","type":"quantitative","scale":{"domain":[0,0.22],"nice":false,"zero":false},"axis":{"orient":"left","values":[0,0.05,0.1,0.15,0.2],"tickSize":-6,"labels":false,"title":"0","titleX":482.5,"titleY":108,"titleAngle":90,"titleFontSize":15.5}}}},
  {"data":{"name":"frame"},"mark":{"type":"point","opacity":0},"encoding":{"x":{"field":"t","type":"quantitative","scale":{"domain":[0,165],"nice":false,"zero":false},"axis":{"orient":"top","values":[0,25,50,75,100,125,150],"tickSize":-6,"labels":false,"title":"]","titleX":487,"titleY":116.6,"titleAngle":90,"titleFontSize":24}},"y":{"field":"v","type":"quantitative","scale":{"domain":[0,0.22],"nice":false,"zero":false},"axis":{"orient":"right","values":[0,0.05,0.1,0.15,0.2],"tickSize":-6,"labels":true,"format":".2f","labelPadding":15.7,"title":null}}}},
  {"data":{"name":"csl_exp"},"mark":{"type":"line","color":"#3a3a3a","strokeWidth":1.1,"strokeDash":[1.2,1.6]},"encoding":{"x":{"field":"t","type":"quantitative","axis":null},"y":{"field":"v","type":"quantitative","axis":null}}},
  {"data":{"name":"csl_exp"},"mark":{"type":"errorbar","color":"#d20000","thickness":1.6,"ticks":{"size":8,"thickness":1.6}},"encoding":{"x":{"field":"t","type":"quantitative","axis":null},"y":{"field":"v","type":"quantitative","axis":null},"yError":{"field":"e"}}},
  {"data":{"name":"boxes"},"transform":[{"filter":"datum.p==='b3'"}],"mark":{"type":"rect","fill":"#ffffff","stroke":"#000000","strokeWidth":1.3},"encoding":{"x":{"field":"t1","type":"quantitative","axis":null},"x2":{"field":"t2"},"y":{"field":"v1","type":"quantitative","axis":null},"y2":{"field":"v2"}}},
  {"data":{"name":"boxes"},"transform":[{"filter":"datum.p==='b3'"}],"mark":{"type":"text","color":"#12a0fa","fontSize":19,"fontWeight":"bold","align":"center","baseline":"middle"},"encoding":{"x":{"field":"tx","type":"quantitative","axis":null},"y":{"field":"ty","type":"quantitative","axis":null},"text":{"field":"txt","type":"nominal"}}},
  {"data":{"name":"plabels"},"transform":[{"filter":"datum.p==='b3'"}],"mark":{"type":"text","color":"#0a0a82","fontSize":25,"fontWeight":"bold","align":"left","baseline":"middle"},"encoding":{"x":{"field":"t","type":"quantitative","axis":null},"y":{"field":"v","type":"quantitative","axis":null},"text":{"field":"txt","type":"nominal"}}}
 ]},
{"width":413,"height":192,
 "resolve":{"axis":{"x":"independent","y":"independent"}},
 "layer":[
  {"data":{"name":"frame"},"mark":{"type":"point","opacity":0},"encoding":{"x":{"field":"t","type":"quantitative","scale":{"domain":[0,165],"nice":false,"zero":false},"axis":{"orient":"bottom","values":[6.25,12.5,18.75,31.25,37.5,43.75,56.25,62.5,68.75,81.25,87.5,93.75,106.25,112.5,118.75,131.25,137.5,143.75,156.25,162.5],"grid":true,"gridDash":[1.5,2],"gridColor":"#b4b4b4","labels":false,"tickSize":-3.5,"title":null}},"y":{"field":"v","type":"quantitative","scale":{"domain":[0,0.22],"nice":false,"zero":false},"axis":{"orient":"left","values":[0.0125,0.025,0.0375,0.0625,0.075,0.0875,0.1125,0.125,0.1375,0.1625,0.175,0.1875,0.2125],"grid":true,"gridDash":[1.5,2],"gridColor":"#b4b4b4","labels":false,"tickSize":-3.5,"title":"spin-lock time t","titleX":269,"titleY":238,"titleAngle":0,"titleFontSize":28.5}}}},
  {"data":{"name":"frame"},"mark":{"type":"point","opacity":0},"encoding":{"x":{"field":"t","type":"quantitative","scale":{"domain":[0,165],"nice":false,"zero":false},"axis":{"orient":"bottom","values":[25,50,75,100,125,150],"grid":true,"gridColor":"#8f8f8f","ticks":false,"labels":false,"title":null}},"y":{"field":"v","type":"quantitative","scale":{"domain":[0,0.22],"nice":false,"zero":false},"axis":{"orient":"left","values":[0.05,0.1,0.15,0.2],"grid":true,"gridColor":"#8f8f8f","ticks":false,"labels":false,"title":"SL","titleX":478,"titleY":244.5,"titleAngle":0,"titleFontSize":18}}}},
  {"data":{"name":"frame"},"mark":{"type":"point","opacity":0},"encoding":{"x":{"field":"t","type":"quantitative","scale":{"domain":[0,165],"nice":false,"zero":false},"axis":{"orient":"top","values":[6.25,12.5,18.75,31.25,37.5,43.75,56.25,62.5,68.75,81.25,87.5,93.75,106.25,112.5,118.75,131.25,137.5,143.75,156.25,162.5],"labels":false,"tickSize":-3.5,"title":"[ms]","titleX":509,"titleY":238,"titleAngle":0,"titleFontSize":28.5}},"y":{"field":"v","type":"quantitative","scale":{"domain":[0,0.22],"nice":false,"zero":false},"axis":{"orient":"right","values":[0.0125,0.025,0.0375,0.0625,0.075,0.0875,0.1125,0.125,0.1375,0.1625,0.175,0.1875,0.2125],"labels":false,"tickSize":-3.5,"title":null}}}},
  {"data":{"name":"frame"},"mark":{"type":"point","opacity":0},"encoding":{"x":{"field":"t","type":"quantitative","scale":{"domain":[0,165],"nice":false,"zero":false},"axis":{"orient":"bottom","values":[0,25,50,75,100,125,150],"tickSize":-6,"labels":true,"labelPadding":14,"title":null}},"y":{"field":"v","type":"quantitative","scale":{"domain":[0,0.22],"nice":false,"zero":false},"axis":{"orient":"left","values":[0,0.05,0.1,0.15,0.2],"tickSize":-6,"labels":true,"format":".2f","labelPadding":16,"title":null}}}},
  {"data":{"name":"frame"},"mark":{"type":"point","opacity":0},"encoding":{"x":{"field":"t","type":"quantitative","scale":{"domain":[0,165],"nice":false,"zero":false},"axis":{"orient":"top","values":[0,25,50,75,100,125,150],"tickSize":-6,"labels":false,"title":null}},"y":{"field":"v","type":"quantitative","scale":{"domain":[0,0.22],"nice":false,"zero":false},"axis":{"orient":"right","values":[0,0.05,0.1,0.15,0.2],"tickSize":-6,"labels":false,"title":null}}}},
  {"data":{"name":"vlines"},"transform":[{"filter":"datum.p==='a4'"}],"mark":{"type":"rule","color":"#12a0fa","strokeWidth":1.8},"encoding":{"x":{"field":"t","type":"quantitative","axis":null},"y":{"datum":0,"type":"quantitative","axis":null},"y2":{"datum":0.22}}},
  {"data":{"name":"vlines"},"transform":[{"filter":"datum.p==='a4'"}],"mark":{"type":"point","shape":"M-1,-1L1,1M1,-1L-1,1","size":100,"filled":false,"color":"#12a0fa","strokeWidth":1.6,"opacity":1},"encoding":{"x":{"field":"t","type":"quantitative","axis":null},"y":{"datum":0.22,"type":"quantitative","axis":null}}},
  {"data":{"name":"arrows"},"transform":[{"filter":"datum.p==='a4'"}],"mark":{"type":"rule","color":"#12a0fa","strokeWidth":1.6},"encoding":{"x":{"field":"t1","type":"quantitative","axis":null},"x2":{"field":"t2"},"y":{"field":"v","type":"quantitative","axis":null}}},
  {"data":{"name":"arrows"},"transform":[{"filter":"datum.p==='a4'"}],"mark":{"type":"point","shape":"triangle-left","size":64,"filled":true,"color":"#12a0fa","opacity":1,"xOffset":4},"encoding":{"x":{"field":"t1","type":"quantitative","axis":null},"y":{"field":"v","type":"quantitative","axis":null}}},
  {"data":{"name":"arrows"},"transform":[{"filter":"datum.p==='a4'"}],"mark":{"type":"point","shape":"triangle-right","size":64,"filled":true,"color":"#12a0fa","opacity":1,"xOffset":-4},"encoding":{"x":{"field":"t2","type":"quantitative","axis":null},"y":{"field":"v","type":"quantitative","axis":null}}},
  {"data":{"name":"bsl_sim"},"mark":{"type":"line","color":"#cc0000","strokeWidth":2.3,"interpolate":"monotone"},"encoding":{"x":{"field":"t","type":"quantitative","axis":null},"y":{"field":"v","type":"quantitative","axis":null}}},
  {"data":{"name":"boxes"},"transform":[{"filter":"datum.p==='a4'"}],"mark":{"type":"rect","fill":"#ffffff","stroke":"#000000","strokeWidth":1.3},"encoding":{"x":{"field":"t1","type":"quantitative","axis":null},"x2":{"field":"t2"},"y":{"field":"v1","type":"quantitative","axis":null},"y2":{"field":"v2"}}},
  {"data":{"name":"boxes"},"transform":[{"filter":"datum.p==='a4'"}],"mark":{"type":"text","color":"#12a0fa","fontSize":19.5,"fontWeight":"bold","align":"center","baseline":"middle"},"encoding":{"x":{"field":"tx","type":"quantitative","axis":null},"y":{"field":"ty","type":"quantitative","axis":null},"text":{"field":"txt","type":"nominal"}}},
  {"data":{"name":"plabels"},"transform":[{"filter":"datum.p==='a4'"}],"mark":{"type":"text","color":"#0a0a82","fontSize":25,"fontWeight":"bold","align":"left","baseline":"middle"},"encoding":{"x":{"field":"t","type":"quantitative","axis":null},"y":{"field":"v","type":"quantitative","axis":null},"text":{"field":"txt","type":"nominal"}}},
  {"data":{"name":"arrows"},"transform":[{"filter":"datum.p==='a4'"}],"mark":{"type":"text","color":"#12a0fa","fontSize":16,"fontWeight":"bold","align":"center","baseline":"middle"},"encoding":{"x":{"field":"tm","type":"quantitative","axis":null},"y":{"field":"lv","type":"quantitative","axis":null},"text":{"field":"txt","type":"nominal"}}}
 ]},
{"width":413,"height":192,
 "resolve":{"axis":{"x":"independent","y":"independent"}},
 "layer":[
  {"data":{"name":"frame"},"mark":{"type":"point","opacity":0},"encoding":{"x":{"field":"t","type":"quantitative","scale":{"domain":[0,165],"nice":false,"zero":false},"axis":{"orient":"bottom","values":[6.25,12.5,18.75,31.25,37.5,43.75,56.25,62.5,68.75,81.25,87.5,93.75,106.25,112.5,118.75,131.25,137.5,143.75,156.25,162.5],"grid":true,"gridDash":[1.5,2],"gridColor":"#b4b4b4","labels":false,"tickSize":-3.5,"title":null}},"y":{"field":"v","type":"quantitative","scale":{"domain":[0,0.22],"nice":false,"zero":false},"axis":{"orient":"left","values":[0.0125,0.025,0.0375,0.0625,0.075,0.0875,0.1125,0.125,0.1375,0.1625,0.175,0.1875,0.2125],"grid":true,"gridDash":[1.5,2],"gridColor":"#b4b4b4","labels":false,"tickSize":-3.5,"title":null}}}},
  {"data":{"name":"frame"},"mark":{"type":"point","opacity":0},"encoding":{"x":{"field":"t","type":"quantitative","scale":{"domain":[0,165],"nice":false,"zero":false},"axis":{"orient":"bottom","values":[25,50,75,100,125,150],"grid":true,"gridColor":"#8f8f8f","ticks":false,"labels":false,"title":null}},"y":{"field":"v","type":"quantitative","scale":{"domain":[0,0.22],"nice":false,"zero":false},"axis":{"orient":"left","values":[0.05,0.1,0.15,0.2],"grid":true,"gridColor":"#8f8f8f","ticks":false,"labels":false,"title":null}}}},
  {"data":{"name":"frame"},"mark":{"type":"point","opacity":0},"encoding":{"x":{"field":"t","type":"quantitative","scale":{"domain":[0,165],"nice":false,"zero":false},"axis":{"orient":"top","values":[6.25,12.5,18.75,31.25,37.5,43.75,56.25,62.5,68.75,81.25,87.5,93.75,106.25,112.5,118.75,131.25,137.5,143.75,156.25,162.5],"labels":false,"tickSize":-3.5,"title":null}},"y":{"field":"v","type":"quantitative","scale":{"domain":[0,0.22],"nice":false,"zero":false},"axis":{"orient":"right","values":[0.0125,0.025,0.0375,0.0625,0.075,0.0875,0.1125,0.125,0.1375,0.1625,0.175,0.1875,0.2125],"labels":false,"tickSize":-3.5,"title":null}}}},
  {"data":{"name":"frame"},"mark":{"type":"point","opacity":0},"encoding":{"x":{"field":"t","type":"quantitative","scale":{"domain":[0,165],"nice":false,"zero":false},"axis":{"orient":"bottom","values":[0,25,50,75,100,125,150],"tickSize":-6,"labels":true,"labelPadding":14,"title":null}},"y":{"field":"v","type":"quantitative","scale":{"domain":[0,0.22],"nice":false,"zero":false},"axis":{"orient":"left","values":[0,0.05,0.1,0.15,0.2],"tickSize":-6,"labels":false,"title":null}}}},
  {"data":{"name":"frame"},"mark":{"type":"point","opacity":0},"encoding":{"x":{"field":"t","type":"quantitative","scale":{"domain":[0,165],"nice":false,"zero":false},"axis":{"orient":"top","values":[0,25,50,75,100,125,150],"tickSize":-6,"labels":false,"title":null}},"y":{"field":"v","type":"quantitative","scale":{"domain":[0,0.22],"nice":false,"zero":false},"axis":{"orient":"right","values":[0,0.05,0.1,0.15,0.2],"tickSize":-6,"labels":true,"format":".2f","labelPadding":15.7,"title":null}}}},
  {"data":{"name":"vlines"},"transform":[{"filter":"datum.p==='b4'"}],"mark":{"type":"rule","color":"#12a0fa","strokeWidth":1.8},"encoding":{"x":{"field":"t","type":"quantitative","axis":null},"y":{"datum":0,"type":"quantitative","axis":null},"y2":{"datum":0.22}}},
  {"data":{"name":"vlines"},"transform":[{"filter":"datum.p==='b4'"}],"mark":{"type":"point","shape":"M-1,-1L1,1M1,-1L-1,1","size":100,"filled":false,"color":"#12a0fa","strokeWidth":1.6,"opacity":1},"encoding":{"x":{"field":"t","type":"quantitative","axis":null},"y":{"datum":0.22,"type":"quantitative","axis":null}}},
  {"data":{"name":"arrows"},"transform":[{"filter":"datum.p==='b4'"}],"mark":{"type":"rule","color":"#12a0fa","strokeWidth":1.6},"encoding":{"x":{"field":"t1","type":"quantitative","axis":null},"x2":{"field":"t2"},"y":{"field":"v","type":"quantitative","axis":null}}},
  {"data":{"name":"arrows"},"transform":[{"filter":"datum.p==='b4'"}],"mark":{"type":"point","shape":"triangle-left","size":64,"filled":true,"color":"#12a0fa","opacity":1,"xOffset":4},"encoding":{"x":{"field":"t1","type":"quantitative","axis":null},"y":{"field":"v","type":"quantitative","axis":null}}},
  {"data":{"name":"arrows"},"transform":[{"filter":"datum.p==='b4'"}],"mark":{"type":"point","shape":"triangle-right","size":64,"filled":true,"color":"#12a0fa","opacity":1,"xOffset":-4},"encoding":{"x":{"field":"t2","type":"quantitative","axis":null},"y":{"field":"v","type":"quantitative","axis":null}}},
  {"data":{"name":"bsl_exp"},"mark":{"type":"line","color":"#3a3a3a","strokeWidth":1.1,"strokeDash":[1.2,1.6]},"encoding":{"x":{"field":"t","type":"quantitative","axis":null},"y":{"field":"v","type":"quantitative","axis":null}}},
  {"data":{"name":"bsl_exp"},"mark":{"type":"errorbar","color":"#d20000","thickness":1.6,"ticks":{"size":8,"thickness":1.6}},"encoding":{"x":{"field":"t","type":"quantitative","axis":null},"y":{"field":"v","type":"quantitative","axis":null},"yError":{"field":"e"}}},
  {"data":{"name":"boxes"},"transform":[{"filter":"datum.p==='b4'"}],"mark":{"type":"rect","fill":"#ffffff","stroke":"#000000","strokeWidth":1.3},"encoding":{"x":{"field":"t1","type":"quantitative","axis":null},"x2":{"field":"t2"},"y":{"field":"v1","type":"quantitative","axis":null},"y2":{"field":"v2"}}},
  {"data":{"name":"boxes"},"transform":[{"filter":"datum.p==='b4'"}],"mark":{"type":"text","color":"#12a0fa","fontSize":19.5,"fontWeight":"bold","align":"center","baseline":"middle"},"encoding":{"x":{"field":"tx","type":"quantitative","axis":null},"y":{"field":"ty","type":"quantitative","axis":null},"text":{"field":"txt","type":"nominal"}}},
  {"data":{"name":"plabels"},"transform":[{"filter":"datum.p==='b4'"}],"mark":{"type":"text","color":"#0a0a82","fontSize":25,"fontWeight":"bold","align":"left","baseline":"middle"},"encoding":{"x":{"field":"t","type":"quantitative","axis":null},"y":{"field":"v","type":"quantitative","axis":null},"text":{"field":"txt","type":"nominal"}}},
  {"data":{"name":"arrows"},"transform":[{"filter":"datum.p==='b4'"}],"mark":{"type":"text","color":"#12a0fa","fontSize":16,"fontWeight":"bold","align":"center","baseline":"middle"},"encoding":{"x":{"field":"tm","type":"quantitative","axis":null},"y":{"field":"lv","type":"quantitative","axis":null},"text":{"field":"txt","type":"nominal"}}}
 ]}
]
}
